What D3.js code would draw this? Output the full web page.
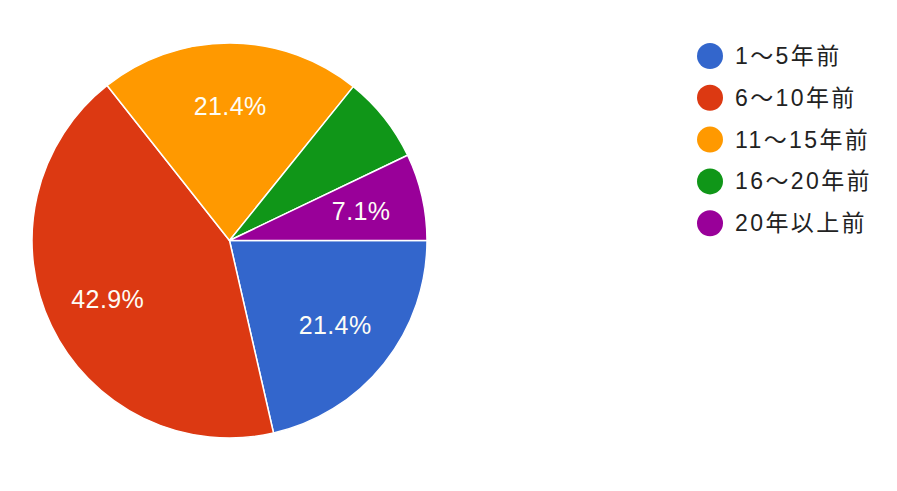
<!DOCTYPE html>
<html><head><meta charset="utf-8">
<script src="https://cdn.jsdelivr.net/npm/d3@7"></script>
<style>
html,body{margin:0;padding:0;background:#fff;}
svg{display:block;}
</style></head>
<body>
<script>
const categories = ["1〜5年前", "6〜10年前", "11〜15年前", "16〜20年前", "20年以上前"];
const values = [21.4, 42.9, 21.4, 7.1, 7.1];
const colors = ["#3366cc", "#dc3912", "#ff9900", "#109618", "#990099"];
const hiddenLabels = ["16〜20年前"];

const W = 897, H = 491;
const cx = 229.5, cy = 240.5, R = 197.5;

const svg = d3.select("body").append("svg").attr("width", W).attr("height", H);

const pie = d3.pie().sort(null).value(d => d.v)
  .startAngle(Math.PI / 2).endAngle(Math.PI / 2 + 2 * Math.PI);
const data = categories.map((c, i) => ({ c, v: values[i], color: colors[i] }));
const arcs = pie(data);
const arc = d3.arc().innerRadius(0).outerRadius(R);

const g = svg.append("g").attr("transform", `translate(${cx},${cy})`);
g.selectAll("path").data(arcs).enter().append("path")
  .attr("d", arc).attr("fill", d => d.data.color)
  .attr("stroke", "#fff").attr("stroke-width", 1.5).attr("stroke-linejoin", "round");

g.selectAll("text.lbl").data(arcs.filter(d => !hiddenLabels.includes(d.data.c)))
  .enter().append("text").attr("class", "lbl")
  .attr("transform", d => {
    const mid = (d.startAngle + d.endAngle) / 2;
    const span = d.endAngle - d.startAngle;
    const lr = Math.abs(Math.cos(mid)) < 0.2 && span < 1.5 ? 152 : 135;
    const x = Math.sin(mid) * lr, y = -Math.cos(mid) * lr;
    return `translate(${x},${y})`;
  })
  .attr("text-anchor", "middle").attr("dominant-baseline", "central")
  .attr("fill", "#fdfdf6")
  .style("font-family", "'Liberation Sans', Arial, sans-serif")
  .style("font-size", "25px")
  .style("letter-spacing", "0.4px")
  .text(d => d.data.v.toFixed(1) + "%");

const legend = svg.append("g").attr("transform", "translate(710,56)");
const rows = legend.selectAll("g").data(data).enter().append("g")
  .attr("transform", (d, i) => `translate(0,${i * 41.8})`);
rows.append("circle").attr("r", 13).attr("fill", d => d.color);
rows.append("text").attr("x", 25).attr("y", 0)
  .attr("dominant-baseline", "central")
  .attr("fill", "#222")
  .style("font-family", "'Liberation Sans', Arial, 'Noto Sans CJK JP', sans-serif")
  .style("font-size", "23px")
  .style("letter-spacing", "2.4px")
  .text(d => d.c);
</script>
</body></html>
